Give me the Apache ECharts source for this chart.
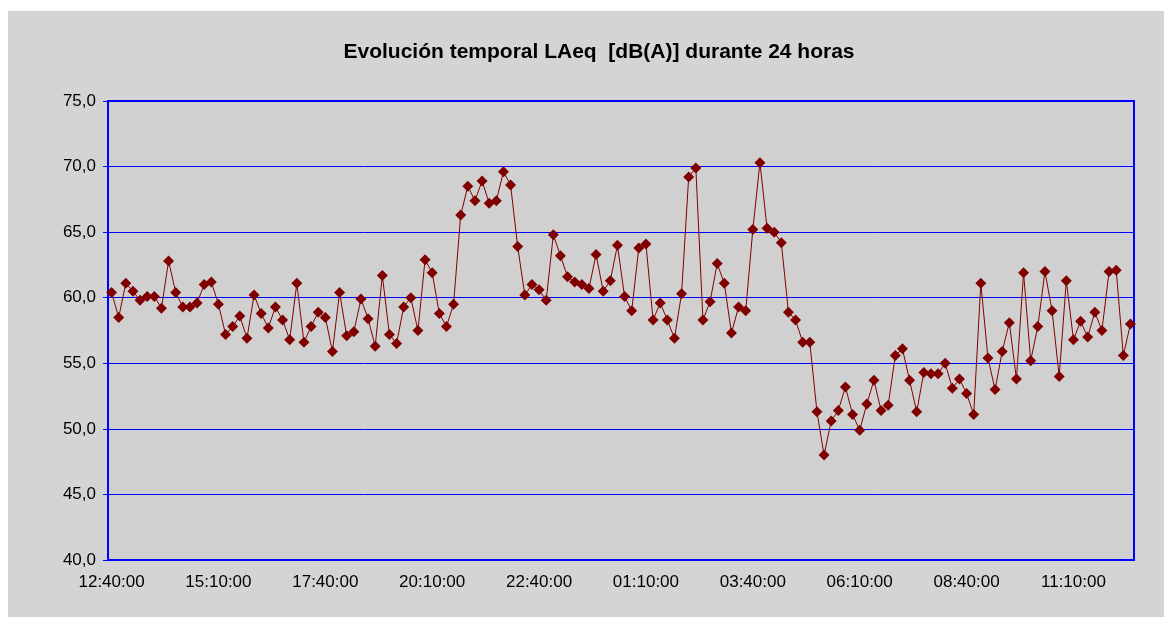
<!DOCTYPE html>
<html>
<head>
<meta charset="utf-8">
<title>Evolución temporal LAeq</title>
<script src="https://cdn.jsdelivr.net/npm/echarts@6/dist/echarts.min.js"></script>
<style>
  html, body { margin: 0; padding: 0; background: #fff; }
  #chart { width: 1176px; height: 625px; }
</style>
</head>
<body>
<div id="chart"></div>
<script>
// 10-minute samples starting at 12:40:00
const startTime = '12:40:00'
const stepMinutes = 10
const sampleCount = 144

const yTicks = [40, 45, 50, 55, 60, 65, 70, 75]

const laeq = [
  60.4, 58.5, 61.1, 60.5, 59.8, 60.1, 60.1, 59.2, 62.8, 60.4, 59.3, 59.3,
  59.6, 61.0, 61.2, 59.5, 57.2, 57.8, 58.6, 56.9, 60.2, 58.8, 57.7, 59.3,
  58.3, 56.8, 61.1, 56.6, 57.8, 58.9, 58.5, 55.9, 60.4, 57.1, 57.4, 59.9,
  58.4, 56.3, 61.7, 57.2, 56.5, 59.3, 60.0, 57.5, 62.9, 61.9, 58.8, 57.8,
  59.5, 66.3, 68.5, 67.4, 68.9, 67.2, 67.4, 69.6, 68.6, 63.9, 60.2, 61.0,
  60.6, 59.8, 64.8, 63.2, 61.6, 61.2, 61.0, 60.7, 63.3, 60.5, 61.3, 64.0,
  60.1, 59.0, 63.8, 64.1, 58.3, 59.6, 58.3, 56.9, 60.3, 69.2, 69.9, 58.3,
  59.7, 62.6, 61.1, 57.3, 59.3, 59.0, 65.2, 70.3, 65.3, 65.0, 64.2, 58.9,
  58.3, 56.6, 56.6, 51.3, 48.0, 50.6, 51.4, 53.2, 51.1, 49.9, 51.9, 53.7,
  51.4, 51.8, 55.6, 56.1, 53.7, 51.3, 54.3, 54.2, 54.2, 55.0, 53.1, 53.8,
  52.7, 51.1, 61.1, 55.4, 53.0, 55.9, 58.1, 53.8, 61.9, 55.2, 57.8, 62.0,
  59.0, 54.0, 61.3, 56.8, 58.2, 57.0, 58.9, 57.5, 62.0, 62.1, 55.6, 58.0
]

const pad = n => String(n).padStart(2, '0')

const buildTimes = () => {
  const [h, m] = startTime.split(':').map(Number)
  const times = []
  for (let i = 0; i < sampleCount; i++) {
    const total = (h * 60 + m + i * stepMinutes) % (24 * 60)
    times.push(`${pad(Math.floor(total / 60))}:${pad(total % 60)}:00`)
  }
  return times
}

const times = buildTimes()

const chart = echarts.init(document.getElementById('chart'))

chart.setOption({
  animation: false,
  backgroundColor: '#ffffff',
  textStyle: { fontFamily: '"Liberation Sans", Arial, sans-serif' },
  graphic: [{
    type: 'rect',
    z: -10,
    shape: { x: 8, y: 11, width: 1156, height: 606 },
    style: { fill: '#d4d4d4' }
  }],
  title: {
    text: 'Evolución temporal LAeq  [dB(A)] durante 24 horas',
    left: 599,
    top: 42,
    padding: 0,
    textAlign: 'center',
    textStyle: {
      fontFamily: '"Liberation Sans", Arial, sans-serif',
      fontSize: 21,
      fontWeight: 'bold',
      color: '#000'
    }
  },
  grid: {
    left: 108,
    top: 101,
    width: 1026,
    height: 459,
    show: true,
    backgroundColor: '#d0d0d0',
    borderColor: '#0000ff',
    borderWidth: 2
  },
  xAxis: {
    type: 'category',
    data: times,
    boundaryGap: true,
    axisLine: { lineStyle: { color: '#0000ff', width: 2 } },
    axisTick: {
      interval: 14,
      length: 5,
      lineStyle: { color: '#0000ff', width: 1 }
    },
    axisLabel: {
      interval: 14,
      margin: 14,
      fontSize: 17,
      color: '#000'
    },
    splitLine: { show: false }
  },
  yAxis: {
    type: 'value',
    min: yTicks[0],
    max: yTicks[yTicks.length - 1],
    interval: 5,
    axisLine: { show: true, lineStyle: { color: '#0000ff', width: 2 } },
    axisTick: { show: true, length: 5, lineStyle: { color: '#0000ff' } },
    axisLabel: {
      margin: 12,
      fontSize: 17,
      color: '#000',
      formatter: v => v.toFixed(1).replace('.', ',')
    },
    splitLine: { lineStyle: { color: '#0000ff', width: 1 } }
  },
  series: [{
    name: 'LAeq',
    type: 'line',
    data: laeq,
    symbol: 'diamond',
    symbolSize: 11,
    showAllSymbol: true,
    lineStyle: { color: '#800000', width: 1 },
    itemStyle: { color: '#800000' }
  }]
})
</script>
</body>
</html>
